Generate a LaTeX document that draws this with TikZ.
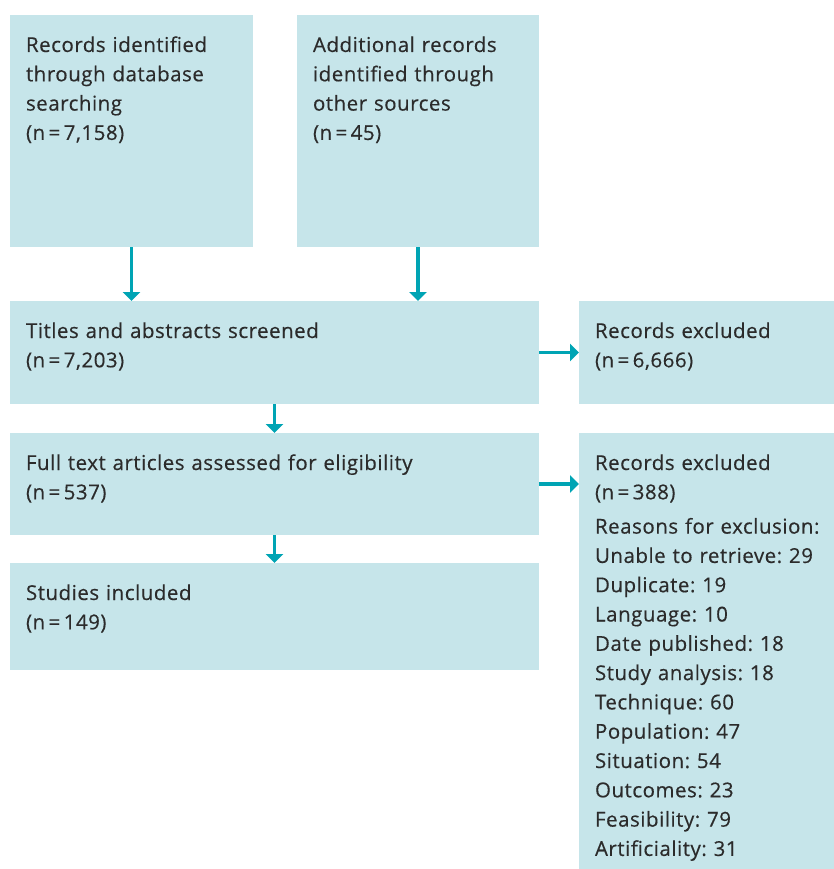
\documentclass[tikz,border=0pt]{standalone}
\usepackage{fontspec}
\setmainfont{Open Sans}[LetterSpace=2.5, FakeBold=0.4]
\usepackage{xcolor}
\usepackage{tikz}
\usetikzlibrary{arrows.meta}
\definecolor{boxblue}{HTML}{C6E5EA}
\definecolor{arrowteal}{HTML}{00A4B4}
\definecolor{textgrey}{HTML}{2B2B2B}
\frenchspacing

\tikzset{
  prismabox/.style={fill=boxblue, anchor=north west, align=left, outer sep=0pt,
    inner xsep=16pt, inner ysep=0pt, text height=37pt, text=textgrey,
    font=\fontsize{20.5}{29.3}\selectfont},
  flowarrow/.style={draw=arrowteal, line width=3.5pt,
    -{Triangle[width=17pt, length=9pt]}}
}

\begin{document}
\begin{tikzpicture}[x=1pt, y=-1pt]
    \useasboundingbox (0,0) rectangle (834,869);
    \node[prismabox, text width=211pt, text depth=195pt] (dbsearch) at (10,15) {%
      Records identified\\
      through database\\
      searching\\
      (n\,=\,7,158)};
    \node[prismabox, text width=210pt, text depth=195pt] (othersrc) at (297,15) {%
      Additional records\\
      identified through\\
      other sources\\
      (n\,=\,45)};
    \node[prismabox, text width=497pt, text depth=66pt] (screened) at (10,301) {%
      Titles and abstracts screened\\
      (n\,=\,7,203)};
    \node[prismabox, text width=223pt, text depth=66pt] (excl1) at (579,301) {%
      Records excluded\\
      (n\,=\,6,666)};
    \node[prismabox, text width=497pt, text depth=65pt] (fulltext) at (10,433) {%
      Full text articles assessed for eligibility\\
      (n\,=\,537)};
    \node[prismabox, text width=223pt, text depth=399pt] (excl2) at (579,433) {%
      Records excluded\\
      (n\,=\,388)\\[5pt]
      \mbox{Reasons for exclusion:}\\
      Unable to retrieve: 29\\
      Duplicate: 19\\
      Language: 10\\
      Date published: 18\\
      Study analysis: 18\\
      Technique: 60\\
      Population: 47\\
      Situation: 54\\
      Outcomes: 23\\
      Feasibility: 79\\
      Artificiality: 31};
    \node[prismabox, text width=497pt, text depth=70pt] (included) at (10,563) {%
      Studies included\\
      (n\,=\,149)};

    \draw[flowarrow] (dbsearch.south) -- (dbsearch.south |- screened.north);
    \draw[flowarrow] (othersrc.south) -- (othersrc.south |- screened.north);
    \draw[flowarrow] (screened.east) -- (excl1.west);
    \draw[flowarrow] (screened.south) -- (fulltext.north);
    \draw[flowarrow] (fulltext.east) -- (fulltext.east -| excl2.west);
    \draw[flowarrow] (fulltext.south) -- (included.north);
  \end{tikzpicture}
\end{document}
